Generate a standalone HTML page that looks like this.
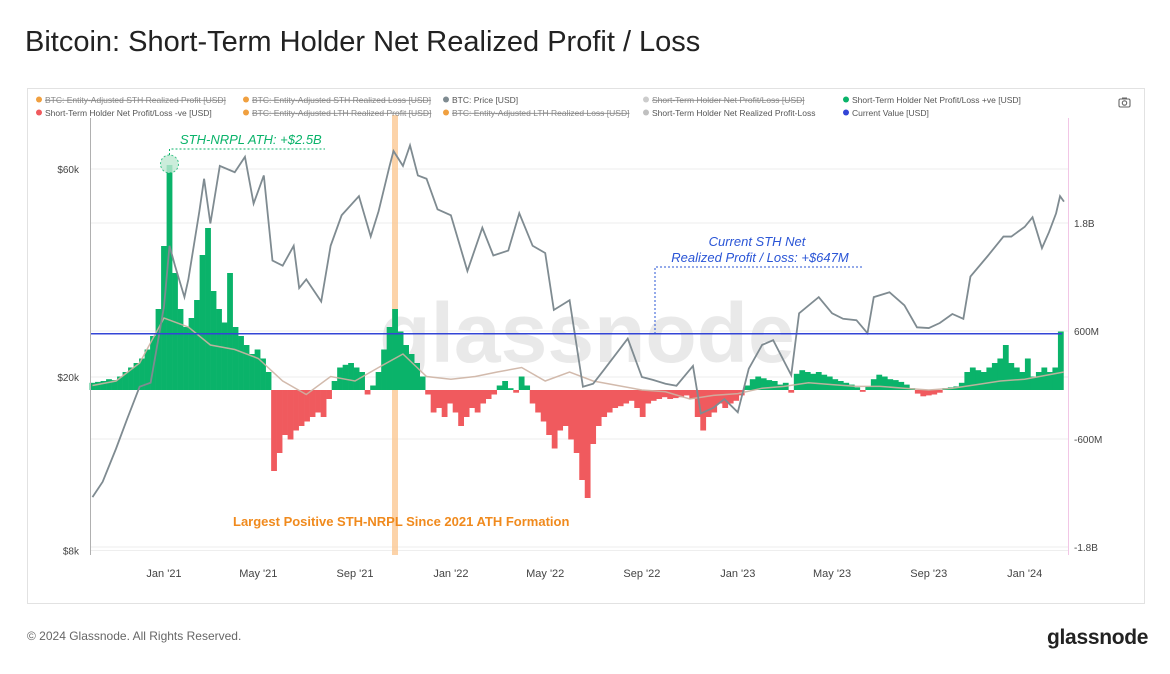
<!DOCTYPE html>
<html><head><meta charset="utf-8">
<style>
body{margin:0;background:#fff;font-family:"Liberation Sans",sans-serif;}
#wrap{position:relative;width:1170px;height:674px;overflow:hidden;background:#fff;}
.t{position:absolute;white-space:nowrap;}
</style></head>
<body>
<div id="wrap">
<div class="t" style="left:25px;top:26px;font-size:29px;color:#222;">Bitcoin: Short-Term Holder Net Realized Profit / Loss</div>
<div class="t" style="left:27px;top:629px;font-size:12px;color:#666;">© 2024 Glassnode. All Rights Reserved.</div>
<div class="t" style="left:1047px;top:626px;font-size:21px;font-weight:bold;color:#222;letter-spacing:-0.3px;">glassnode</div>
<svg id="svg" width="1170" height="674" style="position:absolute;left:0;top:0"></svg>
</div>
<script>
// ---- data ----
const priceDates = ["2020-10-02","2020-10-15","2020-11-01","2020-11-15","2020-12-01","2020-12-15","2021-01-01","2021-01-08","2021-01-15","2021-01-27","2021-02-01","2021-02-15","2021-02-21","2021-03-01","2021-03-13","2021-04-01","2021-04-14","2021-04-25","2021-05-08","2021-05-19","2021-06-01","2021-06-15","2021-06-22","2021-07-01","2021-07-20","2021-08-01","2021-08-15","2021-09-06","2021-09-21","2021-10-01","2021-10-15","2021-10-20","2021-11-01","2021-11-10","2021-11-20","2021-12-01","2021-12-15","2022-01-01","2022-01-22","2022-02-10","2022-02-24","2022-03-15","2022-03-29","2022-04-15","2022-05-01","2022-05-12","2022-06-01","2022-06-18","2022-07-01","2022-07-15","2022-08-14","2022-09-01","2022-09-15","2022-10-01","2022-10-15","2022-11-05","2022-11-15","2022-12-01","2022-12-15","2023-01-01","2023-01-15","2023-02-01","2023-02-15","2023-03-10","2023-03-20","2023-04-14","2023-05-01","2023-05-15","2023-06-01","2023-06-15","2023-06-23","2023-07-13","2023-08-01","2023-08-17","2023-09-01","2023-09-15","2023-10-01","2023-10-15","2023-10-24","2023-11-15","2023-12-05","2023-12-15","2024-01-01","2024-01-11","2024-01-23","2024-02-01","2024-02-10","2024-02-15","2024-02-20"];
const priceValues = [10.6,11.5,13.7,16,19,19.4,29,40,36,30.5,33.5,48,57,45,61,59,64,50,58,37,36,40,32,33.5,29.8,40,47,52,42,48,61,66,61,68,58,57,48.5,47,35,44,38,39,47.5,40,38.5,28.5,30,19,19.3,20.8,24.5,20,19.7,19.3,19.1,21.2,16.5,17,17.8,16.6,20.9,23.7,24.3,20.2,28,30.5,28,27.2,27,25.2,30.5,31.3,29.2,26,25.9,26.6,27.9,27.2,34,37.9,42,42,44.2,46.5,39.5,43,47.5,52,50.5];

const nrplStart = "2020-10-02"; // weekly series
const nrplValues = [80,90,100,120,110,150,200,250,300,350,450,600,900,1600,2500,1300,900,700,800,1000,1500,1800,1100,900,750,1300,700,600,500,400,450,350,200,-900,-700,-500,-550,-450,-400,-350,-300,-250,-300,-100,100,250,280,300,250,200,-50,50,200,450,700,900,650,500,400,300,150,-50,-250,-200,-300,-150,-250,-400,-300,-200,-250,-150,-100,-50,50,100,20,-30,150,50,-150,-250,-350,-500,-650,-450,-400,-550,-700,-1000,-1200,-600,-400,-300,-250,-200,-180,-150,-120,-200,-300,-150,-120,-100,-80,-100,-90,-80,-60,-100,-300,-450,-300,-250,-150,-200,-150,-120,-60,50,120,150,130,110,100,60,80,-30,180,220,200,180,200,170,150,120,100,80,60,30,-20,40,120,170,150,120,110,90,60,20,-40,-70,-60,-50,-30,20,30,40,80,200,250,220,200,250,300,350,500,300,250,200,350,150,200,250,200,250,650];

const lineDates = ["2020-10-02","2020-11-01","2020-12-01","2021-01-01","2021-02-01","2021-03-01","2021-04-01","2021-05-01","2021-06-01","2021-07-01","2021-08-01","2021-09-01","2021-10-01","2021-11-01","2021-12-01","2022-01-01","2022-02-01","2022-03-01","2022-04-01","2022-05-01","2022-06-01","2022-07-01","2022-08-01","2022-09-01","2022-10-01","2022-11-01","2022-12-01","2023-01-01","2023-02-01","2023-03-01","2023-04-01","2023-05-01","2023-06-01","2023-07-01","2023-08-01","2023-09-01","2023-10-01","2023-11-01","2023-12-01","2024-01-01","2024-02-20"];
const lineValues = [50,100,300,800,700,500,450,350,100,-50,150,100,250,400,150,120,150,200,250,100,200,100,50,0,-20,-100,-60,-40,20,40,80,60,40,40,20,0,20,60,100,120,200];

const xTickDates = ["2021-01-01","2021-05-01","2021-09-01","2022-01-01","2022-05-01","2022-09-01","2023-01-01","2023-05-01","2023-09-01","2024-01-01"];
const xTickLabels = ["Jan '21","May '21","Sep '21","Jan '22","May '22","Sep '22","Jan '23","May '23","Sep '23","Jan '24"];
const leftTicks = [60,20,8];
const leftTickLabels = ["$60k","$20k","$8k"];
const rightTicks = [1800,600,-600,-1800];
const rightTickLabels = ["1.8B","600M","-600M","-1.8B"];
const currentValue = 647;
const athValue = 2500;

// ---- scales ----
const DAY = 86400000;
const t0 = Date.parse("2021-01-01");
const X = d => 164 + (Date.parse(d) - t0) / DAY * 0.786;
const Xt = t => 164 + (t - t0) / DAY * 0.786;
const YL = p => 377 - 189.3 * Math.log(p / 20);
const YR = v => 390 - v * 0.09;

const svg = document.getElementById('svg');
const NS = "http://www.w3.org/2000/svg";
function mk(tag, attrs, parent) {
  const e = document.createElementNS(NS, tag);
  for (const k in attrs) e.setAttribute(k, attrs[k]);
  (parent || svg).appendChild(e);
  return e;
}
let e = mk('rect', {x:27.5,y:88.5,width:1117,height:515,fill:'none',stroke:'#e2e2e2'});


rightTicks.forEach(v => { const g = mk('line',{x1:90,x2:1068,y1:YR(v)-5,y2:YR(v)-5,stroke:'#eeeeee'});   });
leftTicks.forEach(v => { const g = mk('line',{x1:90,x2:1068,y1:YL(v),y2:YL(v),stroke:'#eeeeee'});   });
e = mk('text',{x:587,y:362,'text-anchor':'middle','font-size':84,fill:'#dcdcdc','font-family':'Liberation Sans, sans-serif','font-weight':'bold','opacity':0.6});
e.textContent = 'glassnode';


e = mk('rect',{x:392,y:115,width:6,height:440,fill:'#fbc48c',opacity:0.75});


const startT = Date.parse(nrplStart);
nrplValues.forEach((v, i) => {
  const x = Xt(startT + i * 7 * DAY);
  const y0 = YR(0), y1 = YR(v);
  const b = mk('rect',{x:x-2.9,y:Math.min(y0,y1),width:5.8,height:Math.abs(y1-y0),fill:v>=0?'#0ab36a':'#f05a5e'});
  
  
});
e = mk('polyline',{points:lineDates.map((d,i)=>X(d)+','+YR(lineValues[i])).join(' '),fill:'none',stroke:'#cdb3a3','stroke-width':1.5,opacity:0.9});


e = mk('polyline',{points:priceDates.map((d,i)=>X(d)+','+YL(priceValues[i])).join(' '),fill:'none',stroke:'#7f8b91','stroke-width':1.8});


e = mk('line',{x1:90,x2:1062,y1:YR(currentValue)+2,y2:YR(currentValue)+2,stroke:'#3345d6','stroke-width':1.5});


e = mk('line',{x1:90.5,x2:90.5,y1:118,y2:555,stroke:'#b0b0b0'});


e = mk('line',{x1:1068.5,x2:1068.5,y1:118,y2:555,stroke:'#f2c6e6'});


xTickDates.forEach((d,i)=>{ const t = mk('text',{x:X(d),y:577,'text-anchor':'middle','font-size':11,fill:'#444'}); t.textContent = xTickLabels[i];   });
leftTicks.forEach((v,i)=>{ const t = mk('text',{x:79,y:YL(v)+4,'text-anchor':'end','font-size':10,fill:'#444'}); t.textContent = leftTickLabels[i];   });
rightTicks.forEach((v,i)=>{ const t = mk('text',{x:1074,y:YR(v)-1,'font-size':10,fill:'#444'}); t.textContent = rightTickLabels[i];   });
const athX = Xt(startT + 14*7*DAY);
e = mk('circle',{cx:athX,cy:YR(athValue)-1,r:9,fill:'#bfe9d3',opacity:0.8,stroke:'#0ab36a','stroke-dasharray':'2,2'});


e = mk('polyline',{points:`${athX},${YR(athValue)-10} ${athX},149 325,149`,fill:'none',stroke:'#0ab36a','stroke-dasharray':'2,2'});


e = mk('text',{x:180,y:144,'font-size':13,'font-style':'italic',fill:'#0ab36a'});
e.textContent = 'STH-NRPL ATH: +$2.5B';


e = mk('text',{x:757,y:246,'text-anchor':'middle','font-size':13,'font-style':'italic',fill:'#2a55d6'});
e.textContent = 'Current STH Net';


e = mk('text',{x:760,y:262,'text-anchor':'middle','font-size':13,'font-style':'italic',fill:'#2a55d6'});
e.textContent = 'Realized Profit / Loss: +$647M';


e = mk('polyline',{points:'862,267 655,267 655,334',fill:'none',stroke:'#2a55d6','stroke-dasharray':'2,2'});


e = mk('text',{x:233,y:526,'font-size':13,'font-weight':'bold',fill:'#f08a1d'});
e.textContent = 'Largest Positive STH-NRPL Since 2021 ATH Formation';


const legend = [
 [36,103,'#f0a040','BTC: Entity-Adjusted STH Realized Profit [USD]',true],
 [243,103,'#f0a040','BTC: Entity-Adjusted STH Realized Loss [USD]',true],
 [443,103,'#7f8b91','BTC: Price [USD]',false],
 [643,103,'#cccccc','Short-Term Holder Net Profit/Loss [USD]',true],
 [843,103,'#0ab36a','Short-Term Holder Net Profit/Loss +ve [USD]',false],
 [36,116,'#f05a5e','Short-Term Holder Net Profit/Loss -ve [USD]',false],
 [243,116,'#f0a040','BTC: Entity-Adjusted LTH Realized Profit [USD]',true],
 [443,116,'#f0a040','BTC: Entity-Adjusted LTH Realized Loss [USD]',true],
 [643,116,'#c0c0c0','Short-Term Holder Net Realized Profit-Loss',false],
 [843,116,'#3345d6','Current Value [USD]',false]
];
legend.forEach(l => {
  const g = mk('g',{});
  
  
  mk('circle',{cx:l[0]+3,cy:l[1]-3.5,r:3,fill:l[2]},g);
  const t = mk('text',{x:l[0]+9,y:l[1],'font-size':8.5,fill:l[4]?'#888':'#555','text-decoration':l[4]?'line-through':'none'},g);
  t.textContent = l[3];
});
const cam = mk('g',{});


mk('rect',{x:1119,y:99,width:11,height:8,rx:1.5,fill:'none',stroke:'#666','stroke-width':1.1},cam);
mk('circle',{cx:1124.5,cy:103,r:2.2,fill:'none',stroke:'#666','stroke-width':1.1},cam);
mk('rect',{x:1122,y:97.5,width:5,height:2,fill:'#666'},cam);
</script>
</body></html>
